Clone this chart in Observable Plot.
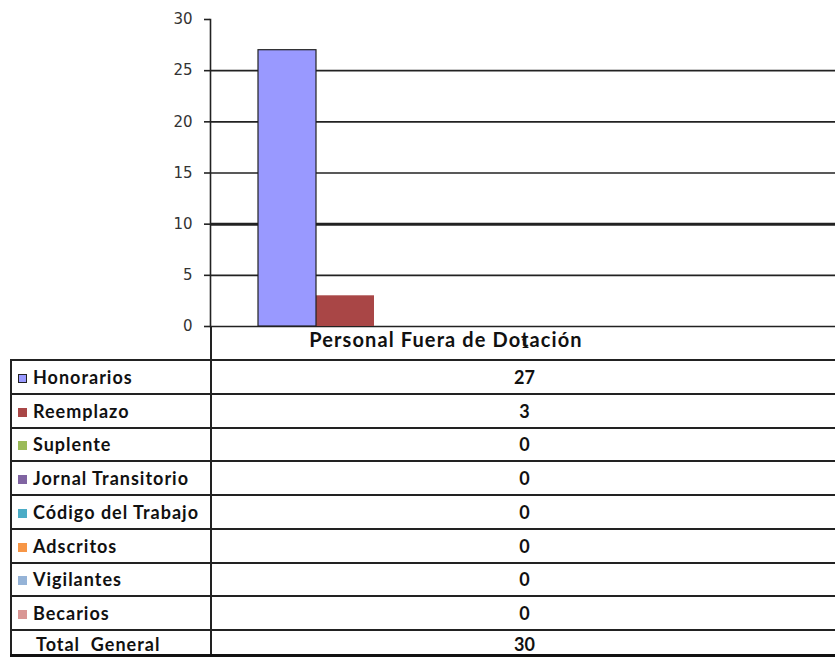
<!DOCTYPE html>
<html>
<head>
<meta charset="utf-8">
<script src="https://cdn.jsdelivr.net/npm/d3@7"></script>
<script src="https://cdn.jsdelivr.net/npm/@observablehq/plot@0.6"></script>
<style>
  html, body { margin: 0; padding: 0; background: #fff; }
  #wrap { position: relative; width: 835px; height: 657px; overflow: hidden; background: #fff; }
  #chart { position: absolute; left: 0; top: 0; z-index: 2; }
  #tbl { position: absolute; left: 10px; top: 326px; width: 826px; border-collapse: collapse; table-layout: fixed;
         font-family: Lato, "Open Sans", sans-serif; font-weight: 700; font-size: 18px; letter-spacing: 1px; color: #111; z-index: 1; }
  #tbl td { padding: 0; height: 31.75px; border: 2px solid #222; white-space: nowrap; overflow: hidden; }
  #tbl td.lab { padding-left: 6px; text-align: left; }
  #tbl td.val { text-align: center; border-right: none; letter-spacing: 0; }
  #tbl tr.head td { height: 33px; border-top: none; }
  #tbl tr.head td.lab { border-left: none; }
  #tbl tr.tot td { border-bottom: 3px solid #111; height: 23px; vertical-align: bottom; line-height: 20px; }
  .sw { display: inline-block; width: 9px; height: 9px; margin-right: 6px; vertical-align: 1px; box-sizing: border-box; }
</style>
</head>
<body>
<div id="wrap"></div>
<script>
const categories = ["Personal Fuera de Dotación"];
const categoryIndexLabel = ["1"];
const series = ["Honorarios", "Reemplazo", "Suplente", "Jornal Transitorio", "Código del Trabajo", "Adscritos", "Vigilantes", "Becarios"];
const values = [27, 3, 0, 0, 0, 0, 0, 0];
const colors = ["#9999FF", "#A94646", "#9BBB59", "#8064A2", "#4BACC6", "#F79646", "#95B3D7", "#D99694"];
const totalLabel = "Total  General";
const yTicks = [0, 5, 10, 15, 20, 25, 30];
const gridValues = [5, 10, 15, 20, 25];

const data = series.map((s, i) => ({series: s, value: values[i], category: categories[0]}));
const total = d3.sum(values);

const wrap = document.getElementById("wrap");

const chart = Plot.plot({
  width: 835,
  height: 361,
  marginTop: 19,
  marginBottom: 35,
  marginLeft: 210,
  marginRight: 0,
  x: {domain: series, paddingInner: 0, paddingOuter: 1.3, align: 0.3, axis: null},
  y: {domain: [0, 30], axis: null},
  color: {domain: series, range: colors},
  style: {background: "transparent", overflow: "visible"},
  marks: [
    Plot.ruleY(gridValues, {stroke: "#222", strokeWidth: d => d === 10 ? 3 : 1.6}),
    Plot.ruleY([0], {stroke: "#222", strokeWidth: 1.6}),
    Plot.barY(data, {x: "series", y: "value", fill: "series"}),
    Plot.barY(data.filter(d => d.series === series[0]), {x: "series", y: "value", fill: "none", stroke: "#222", strokeWidth: 1.2}),
    Plot.axisY({ticks: yTicks, label: null, tickSize: 6, tickPadding: 12, fontFamily: "DejaVu Sans", fontSize: 15, fill: "#333", stroke: "#222", strokeWidth: 1.6}),
    Plot.frame({anchor: "left", stroke: "#222", strokeWidth: 1.6}),
    Plot.text(categories, {frameAnchor: "bottom", dy: 20, dx: -77, fontFamily: "Lato", fontWeight: 700, fontSize: 20, fill: "#111"}),
    Plot.text(categoryIndexLabel, {frameAnchor: "bottom", dy: 21, dx: 2, fontFamily: "Lato", fontSize: 15, fill: "#111"})
  ]
});
chart.id = "chart";
d3.select(chart).selectAll("text").filter(function () { return this.textContent === categories[0]; })
  .style("letter-spacing", "1.1px");
wrap.appendChild(chart);

// data table below the chart
const tbl = document.createElement("table");
tbl.id = "tbl";
const cg = document.createElement("colgroup");
[200, 626].forEach(w => { const c = document.createElement("col"); c.style.width = w + "px"; cg.appendChild(c); });
tbl.appendChild(cg);
const head = tbl.insertRow();
head.className = "head";
head.insertCell().className = "lab";
head.insertCell().className = "val";
series.forEach((s, i) => {
  const r = tbl.insertRow();
  const a = r.insertCell(); a.className = "lab";
  const sw = document.createElement("span");
  sw.className = "sw";
  sw.style.background = colors[i];
  if (i === 0) sw.style.border = "1px solid #222";
  a.appendChild(sw);
  a.appendChild(document.createTextNode(s));
  const b = r.insertCell(); b.className = "val";
  b.textContent = values[i];
});
const tr = tbl.insertRow();
tr.className = "tot";
const ta = tr.insertCell(); ta.className = "lab";
ta.style.paddingLeft = "24px";
ta.style.whiteSpace = "pre";
ta.textContent = totalLabel;
const tb = tr.insertCell(); tb.className = "val";
tb.textContent = total;
wrap.appendChild(tbl);
</script>
</body>
</html>
